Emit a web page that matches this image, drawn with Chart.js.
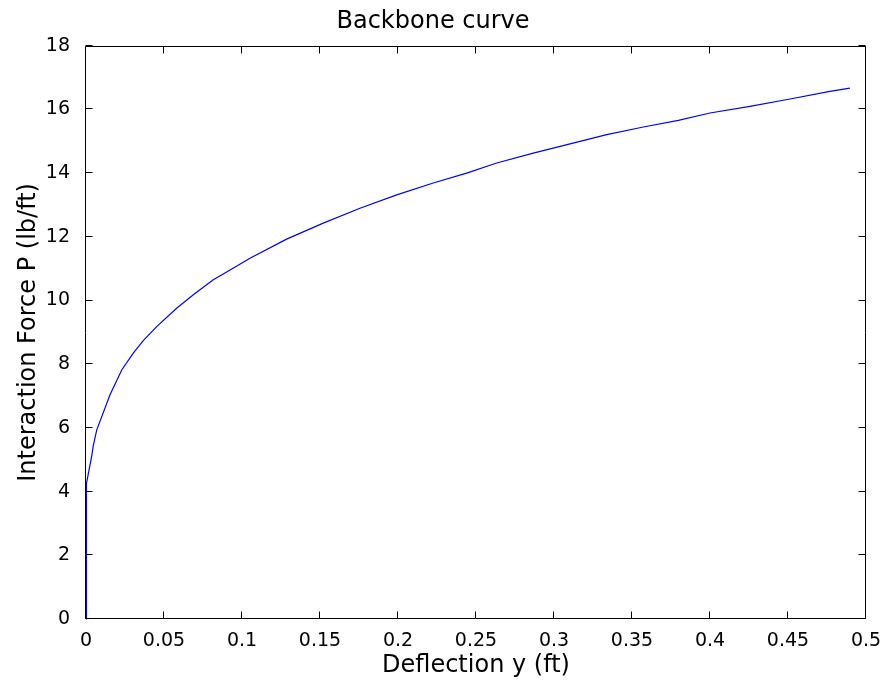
<!DOCTYPE html>
<html>
<head>
<meta charset="utf-8">
<script src="https://cdn.jsdelivr.net/npm/chart.js@4.4.1/dist/chart.umd.min.js"></script>
<style>
  body { margin: 0; background: #fff; }
  #wrap { width: 885px; height: 685px; }
</style>
</head>
<body>
<div id="wrap"><canvas id="myChart"></canvas></div>
<script>
// values
var deflection = [0, 0.0002, 0.0004, 0.0036, 0.0047, 0.0069, 0.0154, 0.0229, 0.0303, 0.0367,
    0.0453, 0.0581, 0.0688, 0.0816, 0.0902, 0.1051, 0.1286, 0.1521, 0.1756, 0.1992,
    0.2226, 0.244, 0.2633, 0.2867, 0.3103, 0.3338, 0.3573, 0.3797, 0.4, 0.4256,
    0.4513, 0.4769, 0.4897];
var force = [0, 2.1, 4.26, 5.1, 5.45, 5.94, 7.04, 7.82, 8.35, 8.74,
    9.18, 9.76, 10.18, 10.65, 10.9, 11.33, 11.93, 12.43, 12.90, 13.32,
    13.69, 14.00, 14.32, 14.63, 14.92, 15.21, 15.45, 15.66, 15.89, 16.10,
    16.33, 16.57, 16.67];
var xTicks = [0, 0.05, 0.1, 0.15, 0.2, 0.25, 0.3, 0.35, 0.4, 0.45, 0.5];
var yTicks = [0, 2, 4, 6, 8, 10, 12, 14, 16, 18];

var points = [];
for (var i = 0; i < deflection.length; i++) {
    points.push({x: deflection[i], y: force[i]});
}

var font = "'DejaVu Sans', sans-serif";

// matlab style box with inward ticks on all four sides
var boxPlugin = {
    id: "box",
    afterDraw: function(chart) {
        var ctx = chart.ctx;
        var a = chart.chartArea;
        var xs = chart.scales.x, ys = chart.scales.y;
        var len = 7;
        var l = Math.round(a.left) - 0.5, r = Math.round(a.right) - 0.5;
        var t = Math.round(a.top) + 0.5, b = Math.round(a.bottom) - 0.5;
        ctx.save();
        ctx.strokeStyle = "#000";
        ctx.lineWidth = 1;
        ctx.beginPath();
        xTicks.forEach(function(v) {
            var px = Math.round(xs.getPixelForValue(v)) - 0.5;
            ctx.moveTo(px, b); ctx.lineTo(px, b - len);
            ctx.moveTo(px, t); ctx.lineTo(px, t + len);
        });
        yTicks.forEach(function(v) {
            var py = Math.round(ys.getPixelForValue(v)) - 0.5;
            ctx.moveTo(l, py); ctx.lineTo(l + len, py);
            ctx.moveTo(r, py); ctx.lineTo(r - len, py);
        });
        ctx.moveTo(l, t); ctx.lineTo(r, t);
        ctx.lineTo(r, b); ctx.lineTo(l, b);
        ctx.lineTo(l, t);
        ctx.stroke();
        ctx.restore();
    }
};

new Chart("myChart", {
    type: "line",
    data: {
        datasets: [{
            data: points,
            borderColor: "#0000ff",
            borderWidth: 1.2,
            pointRadius: 0,
            tension: 0,
            fill: false,
            clip: 4
        }]
    },
    options: {
        responsive: true,
        maintainAspectRatio: false,
        animation: false,
        layout: { padding: { right: 19 } },
        plugins: {
            legend: { display: false },
            tooltip: { enabled: false },
            title: {
                display: true,
                text: "Backbone curve",
                color: "#000",
                font: { family: font, size: 24, weight: "normal" },
                padding: { top: 7, bottom: 10 }
            }
        },
        scales: {
            x: {
                type: "linear",
                min: 0,
                max: 0.5,
                afterFit: function(s) { s.height = 66; },
                afterBuildTicks: function(s) {
                    s.ticks = xTicks.map(function(v) { return {value: v}; });
                },
                grid: { display: false },
                border: { display: false },
                ticks: {
                    color: "#000",
                    padding: 3,
                    maxRotation: 0,
                    autoSkip: false,
                    font: { family: font, size: 19 },
                    callback: function(v) { return String(Math.round(v * 100) / 100); }
                },
                title: {
                    display: true,
                    text: "Deflection y (ft)",
                    color: "#000",
                    font: { family: font, size: 24 },
                    padding: { top: 0, bottom: 5 }
                }
            },
            y: {
                min: 0,
                max: 18,
                afterFit: function(s) { s.width = 86; },
                afterBuildTicks: function(s) {
                    s.ticks = yTicks.map(function(v) { return {value: v}; });
                },
                grid: { display: false },
                border: { display: false },
                ticks: {
                    color: "#000",
                    padding: 8,
                    font: { family: font, size: 19 }
                },
                title: {
                    display: true,
                    text: "Interaction Force P (lb/ft)",
                    color: "#000",
                    font: { family: font, size: 24 },
                    padding: { top: 14, bottom: 0 }
                }
            }
        }
    },
    plugins: [boxPlugin]
});
</script>
</body>
</html>
